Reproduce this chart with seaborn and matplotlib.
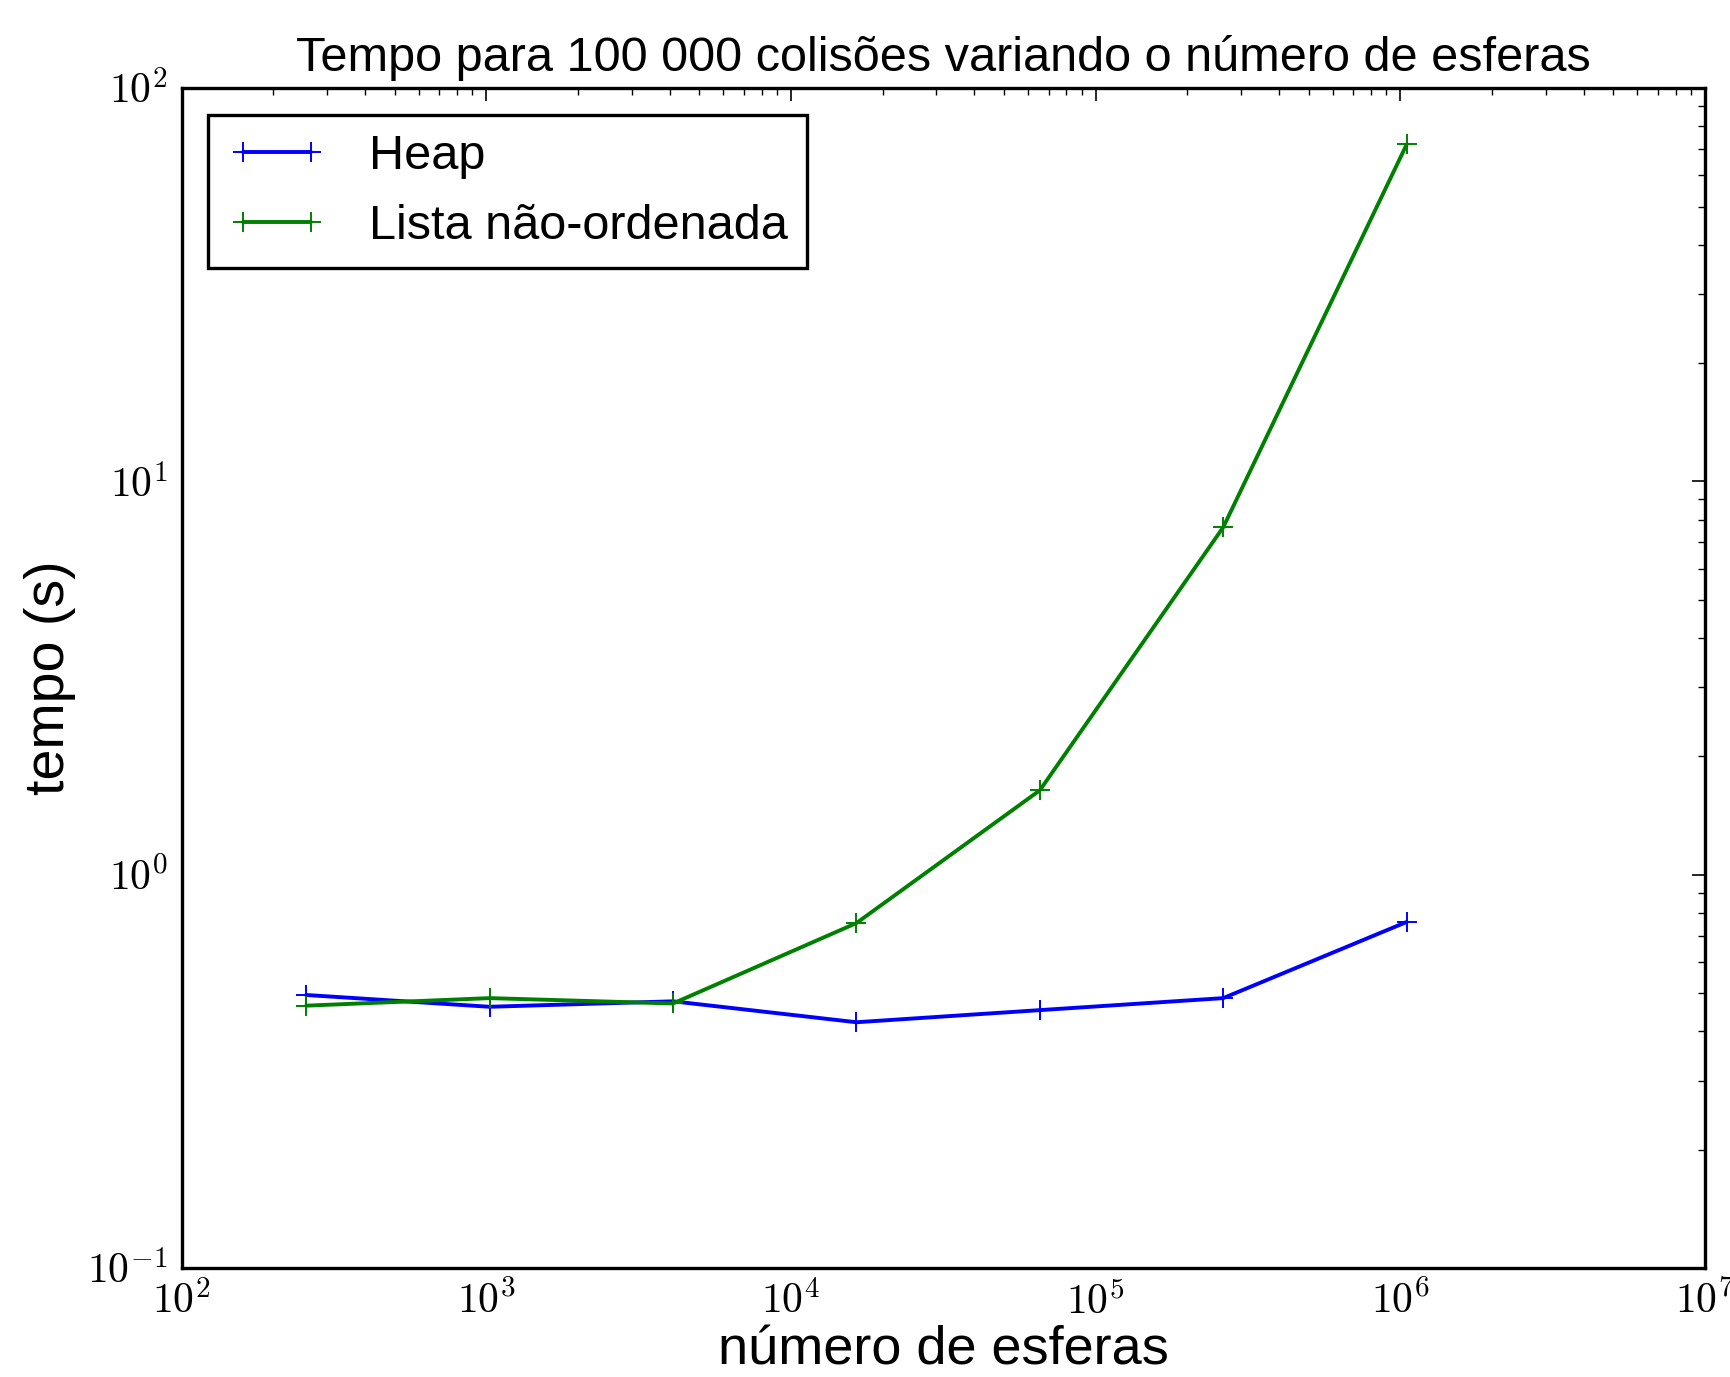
import numpy as np
import pandas as pd
import seaborn as sns
import matplotlib
matplotlib.use("Agg")
import matplotlib.pyplot as plt
from matplotlib.ticker import FuncFormatter, LogLocator

# numero de esferas (potencias de 4) e tempos medidos em segundos
esferas = [256, 1024, 4096, 16384, 65536, 262144, 1048576]
tempo_heap = [0.495, 0.462, 0.477, 0.422, 0.453, 0.486, 0.759]
tempo_lista = [0.465, 0.486, 0.471, 0.754, 1.64, 7.65, 71.9]
metodos = ["Heap", "Lista não-ordenada"]

df = pd.DataFrame({
    "esferas": esferas * 2,
    "tempo": tempo_heap + tempo_lista,
    "metodo": [metodos[0]] * len(esferas) + [metodos[1]] * len(esferas),
})

sns.set_style("white")
plt.rcParams["font.family"] = ["Liberation Sans", "DejaVu Sans"]
plt.rcParams["mathtext.fontset"] = "cm"
plt.rcParams["text.color"] = "k"
plt.rcParams["axes.labelcolor"] = "k"
plt.rcParams["xtick.color"] = "k"
plt.rcParams["ytick.color"] = "k"

fig, ax = plt.subplots(figsize=(17.31, 13.77), dpi=100)
fig.subplots_adjust(left=0.105, right=0.985, top=0.936, bottom=0.079)

sns.lineplot(data=df, x="esferas", y="tempo", hue="metodo", hue_order=metodos,
             palette={"Heap": "#0000ff", "Lista não-ordenada": "#008000"},
             marker="+", markersize=15, markeredgewidth=1.4, linewidth=2.8,
             ax=ax, legend=False)
for ln in ax.get_lines():
    ln.set_markeredgecolor(ln.get_color())

ax.set_xscale("log")
ax.set_yscale("log")
ax.set_xlim(1e2, 1e7)
ax.set_ylim(1e-1, 1e2)

fmt = FuncFormatter(lambda v, p: r"$10^{%d}$" % round(np.log10(v)))
ax.xaxis.set_major_formatter(fmt)
ax.yaxis.set_major_formatter(fmt)
ax.xaxis.set_minor_locator(LogLocator(subs=np.arange(2, 10)))
ax.yaxis.set_minor_locator(LogLocator(subs=np.arange(2, 10)))

ax.tick_params(which="both", direction="in", top=True, right=True, color="k")
ax.tick_params(which="major", length=9.5, width=1.2, labelsize=30)
ax.tick_params(axis="x", which="major", pad=10)
ax.tick_params(axis="y", which="major", pad=10)
ax.tick_params(which="minor", length=4.8, width=1.0)
for s in ax.spines.values():
    s.set_color("k")
    s.set_linewidth(2.4)

ax.set_title("Tempo para 100 000 colisões variando o número de esferas", fontsize=35, pad=12)
ax.set_xlabel("número de esferas", fontsize=39, labelpad=2)
ax.set_ylabel("tempo (s)", fontsize=40, labelpad=8)

handles = ax.get_lines()[:2]
leg = ax.legend(handles, metodos, loc="upper left", numpoints=2, fancybox=False,
                framealpha=1, edgecolor="k", fontsize=35, handlelength=2.0,
                handletextpad=0.9, borderaxespad=0.55)
leg.get_frame().set_linewidth(2.4)

fig.savefig("out.png", dpi=100)
